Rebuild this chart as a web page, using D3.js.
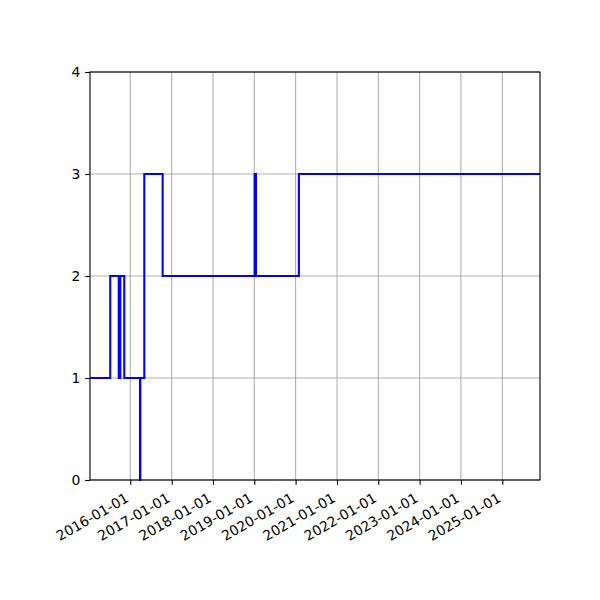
<!DOCTYPE html>
<html>
<head>
<meta charset="utf-8">
<script src="https://cdn.jsdelivr.net/npm/d3@7"></script>
<style>
  html, body { margin: 0; padding: 0; background: #fff; }
  svg { display: block; font-family: "DejaVu Sans", sans-serif; }
</style>
</head>
<body>
<svg id="chart" width="600" height="600"></svg>
<script>
const dates = ["2015-01-10","2015-07-08","2015-09-21","2015-10-05","2015-11-09","2016-03-27","2016-03-30","2016-05-04","2016-10-13","2019-01-04","2019-01-16","2020-01-30","2025-11-30"];
const values = [1, 2, 1, 2, 1, 0, 1, 3, 2, 3, 2, 3, 3];
const xTickLabels = ["2016-01-01","2017-01-01","2018-01-01","2019-01-01","2020-01-01","2021-01-01","2022-01-01","2023-01-01","2024-01-01","2025-01-01"];
const yTicks = [0, 1, 2, 3, 4];
const xDomain = ["2015-01-10", "2025-11-30"];
const yDomain = [0, 4];

const parse = d3.utcParse("%Y-%m-%d");
const data = dates.map((d, i) => ({ date: parse(d), value: values[i] }));

const L = 90, R = 540, T = 72, B = 480;
const svg = d3.select("#chart");

const x = d3.scaleUtc().domain(xDomain.map(parse)).range([L, R]);
const y = d3.scaleLinear().domain(yDomain).range([B, T]);

const xt = xTickLabels.map(parse);

// grid
const grid = svg.append("g");
grid.selectAll("line.vx").data(xt).join("line")
  .attr("x1", d => x(d)).attr("x2", d => x(d))
  .attr("y1", T).attr("y2", B)
  .attr("stroke", "#b0b0b0").attr("stroke-width", 1.1);
grid.selectAll("line.hy").data(yTicks).join("line")
  .attr("x1", L).attr("x2", R)
  .attr("y1", d => y(d)).attr("y2", d => y(d))
  .attr("stroke", "#b0b0b0").attr("stroke-width", 1.1);

// line
const line = d3.line().x(d => x(d.date)).y(d => y(d.value)).curve(d3.curveStepAfter);
svg.append("path").datum(data)
  .attr("d", line)
  .attr("fill", "none")
  .attr("stroke", "#0000ff")
  .attr("stroke-width", 2.08)
  .attr("stroke-linejoin", "miter")
  .attr("stroke-linecap", "butt");

// axes
const xAxis = d3.axisBottom(x).tickValues(xt).tickFormat(d3.utcFormat("%Y-%m-%d")).tickSizeInner(4.86).tickSizeOuter(0).tickPadding(4.86);
const gx = svg.append("g").attr("transform", `translate(0,${B})`).call(xAxis);
gx.select(".domain").remove();
gx.selectAll(".tick line").attr("stroke", "#000").attr("stroke-width", 1.1);
gx.selectAll(".tick text")
  .attr("font-size", "13.9px")
  .attr("font-family", "DejaVu Sans")
  .attr("fill", "#000")
  .attr("text-anchor", "end")
  .attr("y", 0).attr("dy", "0.93em")
  .attr("transform", "translate(-7.5,9.7) rotate(-30)");

const yAxis = d3.axisLeft(y).tickValues(yTicks).tickFormat(d3.format("d")).tickSizeInner(4.86).tickSizeOuter(0).tickPadding(4.86);
const gy = svg.append("g").attr("transform", `translate(${L},0)`).call(yAxis);
gy.select(".domain").remove();
gy.selectAll(".tick line").attr("stroke", "#000").attr("stroke-width", 1.1);
gy.selectAll(".tick text")
  .attr("font-size", "13.9px")
  .attr("font-family", "DejaVu Sans")
  .attr("fill", "#000");

// frame
svg.append("rect").attr("x", L).attr("y", T).attr("width", R - L).attr("height", B - T)
  .attr("fill", "none").attr("stroke", "#000").attr("stroke-width", 1.1);
</script>
</body>
</html>
